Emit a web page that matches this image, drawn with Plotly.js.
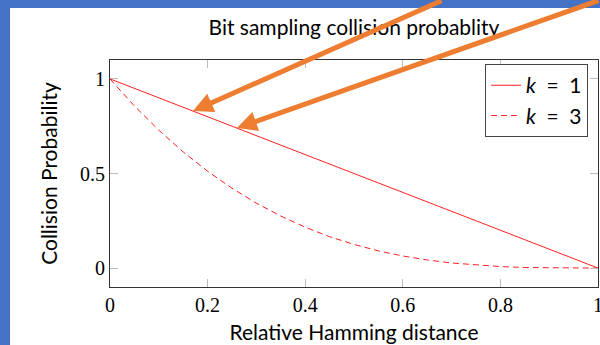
<!DOCTYPE html>
<html>
<head>
<meta charset="utf-8">
<script src="https://cdn.plot.ly/plotly-3.0.1.min.js"></script>
<style>html,body{margin:0;padding:0;background:#fff;}#chart{width:600px;height:345px;}</style>
</head>
<body>
<div id="chart"></div>
<script>
// Data
const distance = [0, 0.05, 0.1, 0.15, 0.2, 0.25, 0.3, 0.35, 0.4, 0.45, 0.5, 0.55, 0.6, 0.65, 0.7, 0.75, 0.8, 0.85, 0.9, 0.95, 1];
const probK1 = [1, 0.95, 0.9, 0.85, 0.8, 0.75, 0.7, 0.65, 0.6, 0.55, 0.5, 0.45, 0.4, 0.35, 0.3, 0.25, 0.2, 0.15, 0.1, 0.05, 0];
const probK3 = [1, 0.857, 0.729, 0.614, 0.512, 0.422, 0.343, 0.275, 0.216, 0.166, 0.125, 0.091, 0.064, 0.043, 0.027, 0.016, 0.008, 0.003, 0.001, 0.0001, 0];
const seriesNames = ['<i>k</i>\u2002=\u20021', '<i>k</i>\u2002=\u20023'];
const xTicks = [0, 0.2, 0.4, 0.6, 0.8, 1];
const xTickText = ['0', '0.2', '0.4', '0.6', '0.8', '1'];
const yTicks = [0, 0.5, 1];
const yTickText = ['0', '0.5', '1'];
// Arrow tips (points on the k = 1 line)
const arrowTipX = [0.17, 0.26];
const arrowTipY = [0.83, 0.74];

const sansFont = 'Lato, "Open Sans", sans-serif';
const serifFont = '"Liberation Serif", "DejaVu Serif", serif';

const traces = [
  {x: distance, y: probK1, type: 'scatter', mode: 'lines', name: seriesNames[0],
   line: {color: '#ff2020', width: 1}},
  {x: distance, y: probK3, type: 'scatter', mode: 'lines', name: seriesNames[1],
   line: {color: '#ff2020', width: 1, dash: '6px,4px'}}
];

const axisCommon = {
  showgrid: false, zeroline: false, showline: true, linecolor: '#333', linewidth: 1,
  mirror: 'allticks', ticks: 'inside', ticklen: 8, tickcolor: '#bbb', tickwidth: 1,
  tickfont: {family: serifFont, size: 20, color: '#000'}, tickmode: 'array',
  ticklabeloverflow: 'allow'
};

const layout = {
  width: 600, height: 345,
  margin: {l: 110, r: 2, t: 60, b: 58},
  paper_bgcolor: '#ffffff', plot_bgcolor: '#ffffff',
  title: {text: 'Bit sampling collision probablity', font: {family: sansFont, size: 21, color: '#000'},
          x: 0.59, xanchor: 'center', y: 0.92, yanchor: 'middle'},
  xaxis: Object.assign({}, axisCommon, {range: [0, 1], tickvals: xTicks, ticktext: xTickText,
    title: {text: 'Relative Hamming distance', font: {family: sansFont, size: 21, color: '#000'}, standoff: 10}}),
  yaxis: Object.assign({}, axisCommon, {range: [-0.1, 1.1], tickvals: yTicks, ticktext: yTickText,
    title: {text: 'Collision Probability', font: {family: sansFont, size: 21, color: '#000'}, standoff: 16}}),
  showlegend: true,
  legend: {x: 0.9795, xanchor: 'right', y: 0.982, yanchor: 'top', bordercolor: '#444', borderwidth: 1,
           bgcolor: '#fff', font: {family: sansFont, size: 21, color: '#000'}, tracegroupgap: 0},
  shapes: [
    {type: 'rect', xref: 'paper', yref: 'paper', layer: 'below',
     x0: -110/488, x1: -100/488, y0: -58/227, y1: 1 + 60/227, fillcolor: '#4472C4', line: {width: 0}},
    {type: 'rect', xref: 'paper', yref: 'paper', layer: 'below',
     x0: -110/488, x1: 1 + 2/488, y0: 1 + 52/227, y1: 1 + 60/227, fillcolor: '#4472C4', line: {width: 0}}
  ],
  annotations: [
    {x: arrowTipX[0], y: arrowTipY[0], xref: 'x', yref: 'y', text: '', showarrow: true,
     axref: 'pixel', ayref: 'pixel', ax: 250, ay: -114, arrowhead: 2, arrowsize: 0.8, arrowwidth: 5, arrowcolor: '#ED7D31'},
    {x: arrowTipX[1], y: arrowTipY[1], xref: 'x', yref: 'y', text: '', showarrow: true,
     axref: 'pixel', ayref: 'pixel', ax: 370, ay: -134, arrowhead: 2, arrowsize: 0.8, arrowwidth: 5, arrowcolor: '#ED7D31'}
  ]
};

Plotly.newPlot('chart', traces, layout, {displayModeBar: false, staticPlot: true});
</script>
</body>
</html>
